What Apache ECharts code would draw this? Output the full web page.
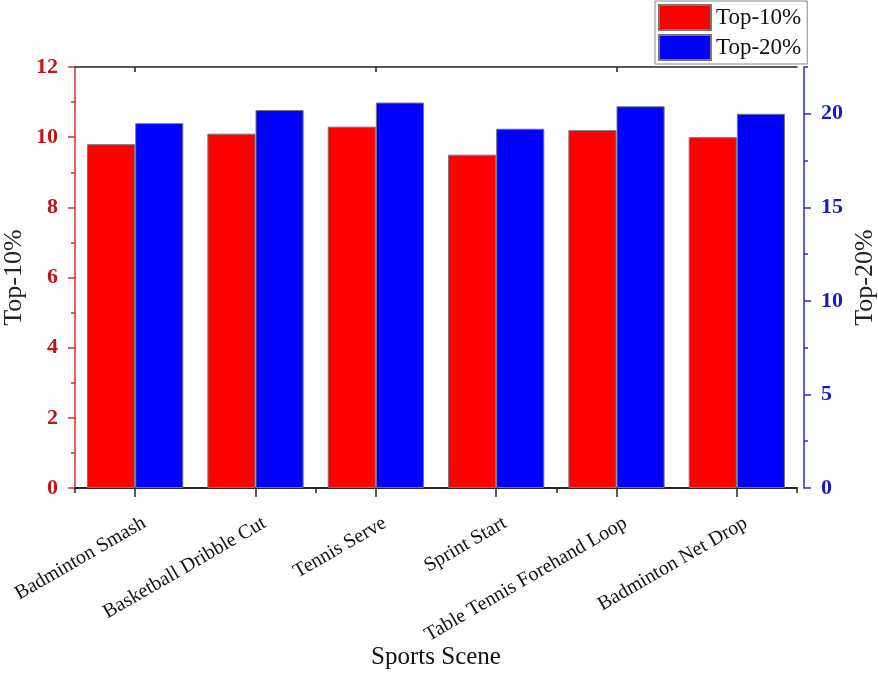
<!DOCTYPE html>
<html><head><meta charset="utf-8">
<script src="https://cdn.jsdelivr.net/npm/echarts@6/dist/echarts.min.js"></script>
<style>html,body{margin:0;padding:0;background:#fff}#c{width:878px;height:675px}</style>
</head><body><div id="c"></div>
<script>
const categories = ['Badminton Smash', 'Basketball Dribble Cut', 'Tennis Serve', 'Sprint Start', 'Table Tennis Forehand Loop', 'Badminton Net Drop'];
const top10 = [9.8, 10.1, 10.3, 9.5, 10.2, 10.0];
const top20 = [19.5, 20.2, 20.6, 19.2, 20.4, 20.0];
const leftTicks = [0, 2, 4, 6, 8, 10, 12];
const rightTicks = [0, 5, 10, 15, 20];

const serif = 'Liberation Serif';
const redLbl = '#c41414', redLine = '#cc3333';
const blueLbl = '#1818c8', blueLine = '#2a2acc';

const chart = echarts.init(document.getElementById('c'), null, {renderer: 'canvas'});
const baseCat = {type: 'category', data: categories, splitLine: {show: false}, axisLabel: {show: false},
  axisLine: {show: true, lineStyle: {color: '#222', width: 1.5}}};
chart.setOption({
  animation: false,
  backgroundColor: '#fff',
  grid: {left: 75, right: 81, top: 67, bottom: 187, containLabel: false, outerBoundsMode: 'none'},
  legend: {
    orient: 'vertical', left: 655, top: 1, itemWidth: 52, itemHeight: 25, itemGap: 3,
    padding: [3, 6, 3, 3], borderColor: '#888', borderWidth: 1,
    textStyle: {fontFamily: serif, fontSize: 23, color: '#111'},
    data: ['Top-10%', 'Top-20%'], icon: 'rect'
  },
  xAxis: [
    Object.assign({}, baseCat, {position: 'bottom',
      axisTick: {show: true, alignWithLabel: true, length: 9, lineStyle: {color: '#222', width: 1.5}},
      axisLabel: {show: true, rotate: 30, fontFamily: serif, fontSize: 20, color: '#111', margin: 10,
        interval: 0, verticalAlign: 'top', padding: [15, 4, 0, 0]},
      name: 'Sports Scene', nameLocation: 'middle', nameGap: 157, nameMoveOverlap: false,
      nameTextStyle: {fontFamily: serif, fontSize: 25, color: '#111'}}),
    Object.assign({}, baseCat, {position: 'bottom',
      axisTick: {show: true, length: 5, lineStyle: {color: '#222', width: 1.5}}}),
    Object.assign({}, baseCat, {position: 'top',
      axisTick: {show: true, inside: true, length: 5, lineStyle: {color: '#222', width: 1.5}}}),
    Object.assign({}, baseCat, {position: 'top',
      axisTick: {show: true, inside: true, alignWithLabel: true, length: 5, lineStyle: {color: '#222', width: 1.5}}})
  ],
  yAxis: [
    {type: 'value', position: 'left', min: 0, max: 12, interval: 2,
      name: 'Top-10%', nameLocation: 'middle', nameGap: 48, nameMoveOverlap: false,
      nameTextStyle: {fontFamily: serif, fontSize: 26, color: '#222'},
      axisLine: {show: true, lineStyle: {color: redLine, width: 1.5}},
      axisTick: {show: true, length: 7, lineStyle: {color: redLine, width: 1.5}},
      minorTick: {show: true, splitNumber: 2, length: 4, lineStyle: {color: redLine, width: 1.5}},
      axisLabel: {fontFamily: serif, fontSize: 22, fontWeight: 'bold', color: redLbl, margin: 17,
        customValues: leftTicks},
      splitLine: {show: false}},
    {type: 'value', position: 'right', offset: 7, min: 0, max: 22.5, interval: 2.5,
      axisLine: {show: true, lineStyle: {color: blueLine, width: 1.5}},
      axisTick: {show: true, length: 4, lineStyle: {color: blueLine, width: 1.5}},
      axisLabel: {show: false}, splitLine: {show: false}},
    {type: 'value', position: 'right', offset: 7, min: 0, max: 22.5, interval: 5,
      name: 'Top-20%', nameLocation: 'middle', nameGap: 48, nameMoveOverlap: false,
      nameTextStyle: {fontFamily: serif, fontSize: 26, color: '#222'},
      axisLine: {show: false},
      axisTick: {show: true, length: 7, customValues: rightTicks, lineStyle: {color: blueLine, width: 1.5}},
      axisLabel: {fontFamily: serif, fontSize: 22, fontWeight: 'bold', color: blueLbl, margin: 17,
        customValues: rightTicks},
      splitLine: {show: false}}
  ],
  series: [
    {name: 'Top-10%', type: 'bar', xAxisIndex: 0, yAxisIndex: 0, data: top10,
      barGap: '0%', barCategoryGap: '20%',
      itemStyle: {color: '#ff0000', borderColor: '#777', borderWidth: 1}},
    {name: 'Top-20%', type: 'bar', xAxisIndex: 0, yAxisIndex: 1, data: top20,
      barGap: '0%', barCategoryGap: '20%',
      itemStyle: {color: '#0000ff', borderColor: '#777', borderWidth: 1}}
  ]
});
</script></body></html>
